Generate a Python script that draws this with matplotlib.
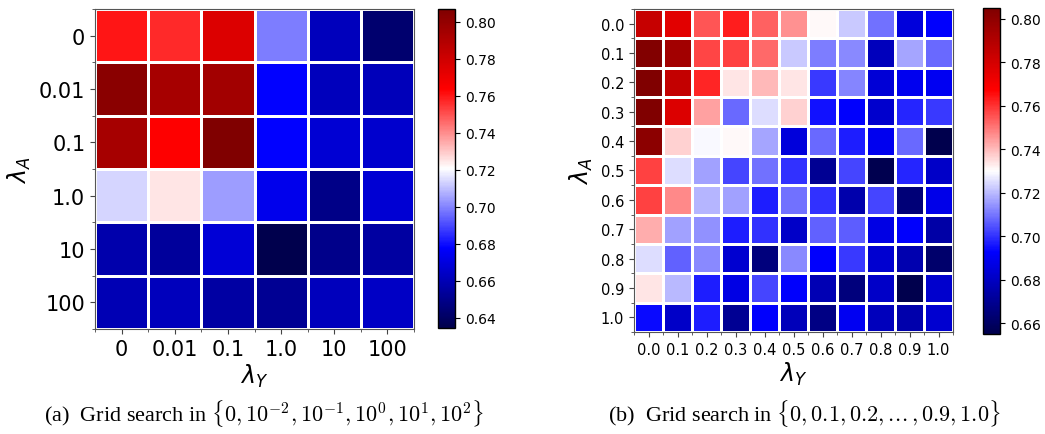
import numpy as np
import matplotlib
matplotlib.use("Agg")
import matplotlib.pyplot as plt
from matplotlib.ticker import FixedLocator

# grid (a): lambda values in {0, 1e-2, ..., 1e2}
labels_a = ["0", "0.01", "0.1", "1.0", "10", "100"]
acc_a = [
    [0.760, 0.757, 0.776, 0.699, 0.662, 0.643],
    [0.803, 0.794, 0.795, 0.678, 0.662, 0.661],
    [0.794, 0.764, 0.807, 0.678, 0.667, 0.666],
    [0.714, 0.725, 0.704, 0.673, 0.649, 0.667],
    [0.658, 0.654, 0.668, 0.6346, 0.650, 0.655],
    [0.660, 0.662, 0.656, 0.652, 0.662, 0.664],
]

# grid (b): lambda values in {0, 0.1, ..., 1.0}
labels_b = ["0.0", "0.1", "0.2", "0.3", "0.4", "0.5", "0.6", "0.7", "0.8", "0.9", "1.0"]
acc_b = [
    [0.784, 0.776, 0.755, 0.763, 0.753, 0.746, 0.731, 0.722, 0.709, 0.685, 0.692],
    [0.804, 0.795, 0.757, 0.758, 0.752, 0.722, 0.711, 0.713, 0.679, 0.717, 0.708],
    [0.805, 0.785, 0.762, 0.734, 0.740, 0.734, 0.701, 0.712, 0.684, 0.689, 0.690],
    [0.805, 0.778, 0.744, 0.708, 0.725, 0.737, 0.695, 0.692, 0.682, 0.698, 0.701],
    [0.801, 0.737, 0.729, 0.731, 0.717, 0.685, 0.708, 0.697, 0.689, 0.708, 0.655],
    [0.758, 0.725, 0.716, 0.703, 0.709, 0.700, 0.670, 0.703, 0.656, 0.698, 0.681],
    [0.758, 0.747, 0.719, 0.716, 0.697, 0.709, 0.700, 0.675, 0.703, 0.664, 0.688],
    [0.742, 0.716, 0.714, 0.697, 0.700, 0.681, 0.707, 0.706, 0.687, 0.692, 0.674],
    [0.725, 0.707, 0.713, 0.683, 0.665, 0.713, 0.692, 0.701, 0.683, 0.676, 0.662],
    [0.734, 0.720, 0.697, 0.687, 0.703, 0.692, 0.677, 0.665, 0.681, 0.655, 0.682],
    [0.694, 0.681, 0.697, 0.670, 0.692, 0.678, 0.667, 0.690, 0.679, 0.675, 0.683],
]

fig = plt.figure(figsize=(10.45, 4.35), dpi=100)


def heat(ax_rect, cb_rect, data, labels, cb_ticks, tick_fs, cb_fs):
    data = np.array(data)
    ax = fig.add_axes(ax_rect)
    cax = fig.add_axes(cb_rect)
    n = len(labels)
    m = ax.pcolormesh(data, cmap="seismic", edgecolors="white", linewidth=2)
    ax.set_xlim(0, n)
    ax.set_ylim(n, 0)
    ax.set_xticks(np.arange(n) + 0.5)
    ax.set_yticks(np.arange(n) + 0.5)
    ax.set_xticklabels(labels, fontsize=tick_fs)
    ax.set_yticklabels(labels, fontsize=tick_fs)
    ax.xaxis.set_minor_locator(FixedLocator(np.arange(n + 1)))
    ax.yaxis.set_minor_locator(FixedLocator(np.arange(n + 1)))
    ax.tick_params(which="both", color="#444444")
    for s in ax.spines.values():
        s.set_color("#555555")
    ax.set_xlabel(r"$\lambda_Y$", fontsize=17, labelpad=2)
    ax.set_ylabel(r"$\lambda_A$", fontsize=17, labelpad=4)
    cb = fig.colorbar(m, cax=cax, ticks=cb_ticks)
    cb.ax.set_yticklabels(["%.2f" % t for t in cb_ticks])
    cb.ax.tick_params(labelsize=cb_fs)
    cb.outline.set_linewidth(1)
    return ax


heat([0.0909, 0.2414, 0.3053, 0.7356], [0.4191, 0.2437, 0.0163, 0.7333],
     acc_a, labels_a, [0.64, 0.66, 0.68, 0.70, 0.72, 0.74, 0.76, 0.78, 0.80], 15, 10)
heat([0.6067, 0.2345, 0.3053, 0.7425], [0.9407, 0.2299, 0.0163, 0.7494],
     acc_b, labels_b, [0.66, 0.68, 0.70, 0.72, 0.74, 0.76, 0.78, 0.80], 10.5, 10)

fig.text(0.2526, 0.05, r"(a)  Grid search in $\{0, 10^{-2}, 10^{-1}, 10^0, 10^1, 10^2\}$",
         ha="center", va="center", fontsize=16, family="Liberation Serif", math_fontfamily="cm")
fig.text(0.770, 0.05, r"(b)  Grid search in $\{0, 0.1, 0.2, .\!.\!., 0.9, 1.0\}$",
         ha="center", va="center", fontsize=16, family="Liberation Serif", math_fontfamily="cm")

fig.savefig("out.png", dpi=100)
